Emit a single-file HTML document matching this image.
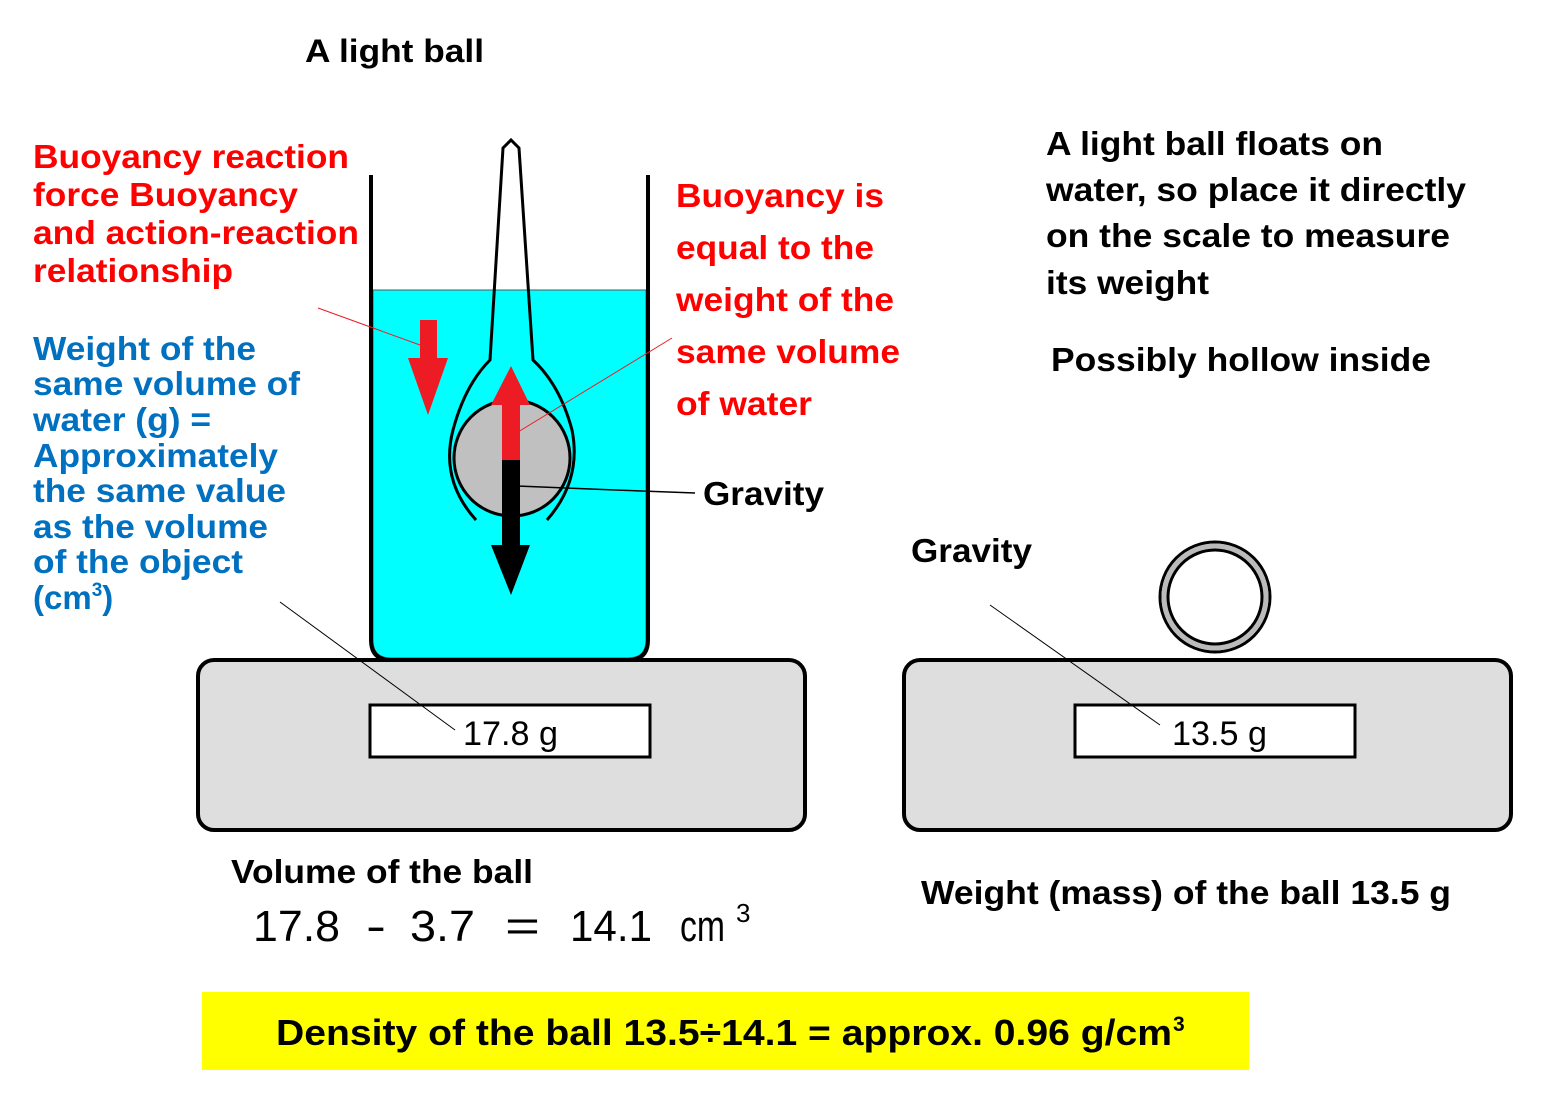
<!DOCTYPE html>
<html><head><meta charset="utf-8"><style>
html,body{margin:0;padding:0;background:#fff}
svg{display:block}
text{font-family:"Liberation Sans",Arial,sans-serif;font-weight:bold}
</style></head><body>
<svg width="1549" height="1101" viewBox="0 0 1549 1101" xmlns="http://www.w3.org/2000/svg">
<rect x="198" y="660" width="607" height="170" rx="16" fill="#dedede" stroke="#000" stroke-width="4"/>
<rect x="370" y="705" width="280" height="52" fill="#fff" stroke="#000" stroke-width="3"/>
<path d="M373 290 H646 V640 Q646 658 628 658 H391 Q373 658 373 640 Z" fill="#00ffff" stroke="#555" stroke-width="1"/>
<path d="M371 175 V640 Q371 660 391 660 H628 Q648 660 648 640 V175" fill="none" stroke="#000" stroke-width="4"/>
<circle cx="512" cy="458" r="58" fill="#c0c0c0" stroke="#000" stroke-width="3"/>
<path d="M476 520 Q440 480 453 430 Q465 385 490 360 L503 148 L511 140 L519 148 L533 360 Q560 385 572 430 Q582 480 547 520" fill="none" stroke="#000" stroke-width="3"/>
<path d="M420 320 H437 V358 H448 L428 415 L408 358 H420 Z" fill="#ed1c24"/>
<path d="M502 458 H520 V545 H530 L511 595 L491 545 H502 Z" fill="#000"/>
<path d="M502 460 H520 V405 H530 L511 366 L491 405 H502 Z" fill="#ed1c24"/>
<line x1="318" y1="308" x2="420" y2="345" stroke="#ed1c24" stroke-width="1"/>
<line x1="672" y1="338" x2="518" y2="432" stroke="#ed1c24" stroke-width="1"/>
<polyline points="517,486 615,490 695,493" fill="none" stroke="#000" stroke-width="1.5"/>
<line x1="280" y1="602" x2="455" y2="730" stroke="#000" stroke-width="1"/>
<rect x="904" y="660" width="607" height="170" rx="16" fill="#dedede" stroke="#000" stroke-width="4"/>
<rect x="1075" y="705" width="280" height="52" fill="#fff" stroke="#000" stroke-width="3"/>
<circle cx="1215" cy="597" r="55" fill="none" stroke="#000" stroke-width="3"/>
<circle cx="1215" cy="597" r="51" fill="none" stroke="#bbb" stroke-width="5"/>
<circle cx="1215" cy="597" r="47" fill="none" stroke="#000" stroke-width="3"/>
<line x1="990" y1="605" x2="1160" y2="725" stroke="#000" stroke-width="1"/>
<text x="463" y="745" font-size="34" style="font-weight:normal" textLength="95" lengthAdjust="spacingAndGlyphs">17.8 g</text>
<text x="1172" y="745" font-size="34" style="font-weight:normal" textLength="95" lengthAdjust="spacingAndGlyphs">13.5 g</text>
<text x="305" y="62" font-size="32" textLength="179" lengthAdjust="spacingAndGlyphs">A light ball</text>
<g fill="#ff0000" font-size="33">
<text x="33" y="168" textLength="316" lengthAdjust="spacingAndGlyphs">Buoyancy reaction</text>
<text x="33" y="206" textLength="265" lengthAdjust="spacingAndGlyphs">force Buoyancy</text>
<text x="33" y="244" textLength="326" lengthAdjust="spacingAndGlyphs">and action-reaction</text>
<text x="33" y="282" textLength="200" lengthAdjust="spacingAndGlyphs">relationship</text>
<text x="676" y="207" textLength="208" lengthAdjust="spacingAndGlyphs">Buoyancy is</text>
<text x="676" y="259" textLength="198" lengthAdjust="spacingAndGlyphs">equal to the</text>
<text x="676" y="311" textLength="218" lengthAdjust="spacingAndGlyphs">weight of the</text>
<text x="676" y="363" textLength="224" lengthAdjust="spacingAndGlyphs">same volume</text>
<text x="676" y="415" textLength="136" lengthAdjust="spacingAndGlyphs">of water</text>
</g>
<g fill="#0070c0" font-size="33">
<text x="33" y="360" textLength="223" lengthAdjust="spacingAndGlyphs">Weight of the</text>
<text x="33" y="395" textLength="267" lengthAdjust="spacingAndGlyphs">same volume of</text>
<text x="33" y="431" textLength="178" lengthAdjust="spacingAndGlyphs">water (g) =</text>
<text x="33" y="467" textLength="245" lengthAdjust="spacingAndGlyphs">Approximately</text>
<text x="33" y="502" textLength="253" lengthAdjust="spacingAndGlyphs">the same value</text>
<text x="33" y="538" textLength="235" lengthAdjust="spacingAndGlyphs">as the volume</text>
<text x="33" y="573" textLength="210" lengthAdjust="spacingAndGlyphs">of the object</text>
<text x="33" y="609">(cm<tspan font-size="19" dy="-13">3</tspan><tspan dy="13">)</tspan></text>
</g>
<g font-size="33">
<text x="1046" y="155" textLength="337" lengthAdjust="spacingAndGlyphs">A light ball floats on</text>
<text x="1046" y="201" textLength="420" lengthAdjust="spacingAndGlyphs">water, so place it directly</text>
<text x="1046" y="247" textLength="404" lengthAdjust="spacingAndGlyphs">on the scale to measure</text>
<text x="1046" y="294" textLength="163" lengthAdjust="spacingAndGlyphs">its weight</text>
<text x="1051" y="371" textLength="380" lengthAdjust="spacingAndGlyphs">Possibly hollow inside</text>
<text x="703" y="505" textLength="121" lengthAdjust="spacingAndGlyphs">Gravity</text>
<text x="911" y="562" textLength="121" lengthAdjust="spacingAndGlyphs">Gravity</text>
<text x="231" y="883" textLength="302" lengthAdjust="spacingAndGlyphs">Volume of the ball</text>
<text x="921" y="904" textLength="530" lengthAdjust="spacingAndGlyphs">Weight (mass) of the ball 13.5 g</text>
</g>
<g font-size="44" style="font-weight:normal">
<text x="253" y="941" style="font-weight:normal" textLength="87" lengthAdjust="spacingAndGlyphs">17.8</text>
<text x="366" y="941" style="font-weight:normal" textLength="20" lengthAdjust="spacingAndGlyphs">-</text>
<text x="410" y="941" style="font-weight:normal" textLength="65" lengthAdjust="spacingAndGlyphs">3.7</text>
<text x="505" y="941" style="font-weight:normal" textLength="35" lengthAdjust="spacingAndGlyphs">=</text>
<text x="570" y="941" style="font-weight:normal" textLength="82" lengthAdjust="spacingAndGlyphs">14.1</text>
<text x="680" y="941" style="font-weight:normal" textLength="45" lengthAdjust="spacingAndGlyphs">cm</text>
</g>
<text x="736" y="922" font-size="26" style="font-weight:normal">3</text>
<rect x="202" y="992" width="1047" height="78" fill="#ffff00"/>
<text x="276" y="1045" font-size="36" textLength="896" lengthAdjust="spacingAndGlyphs">Density of the ball 13.5÷14.1 = approx. 0.96 g/cm</text>
<text x="1173" y="1031" font-size="21">3</text>
</svg>
</body></html>
